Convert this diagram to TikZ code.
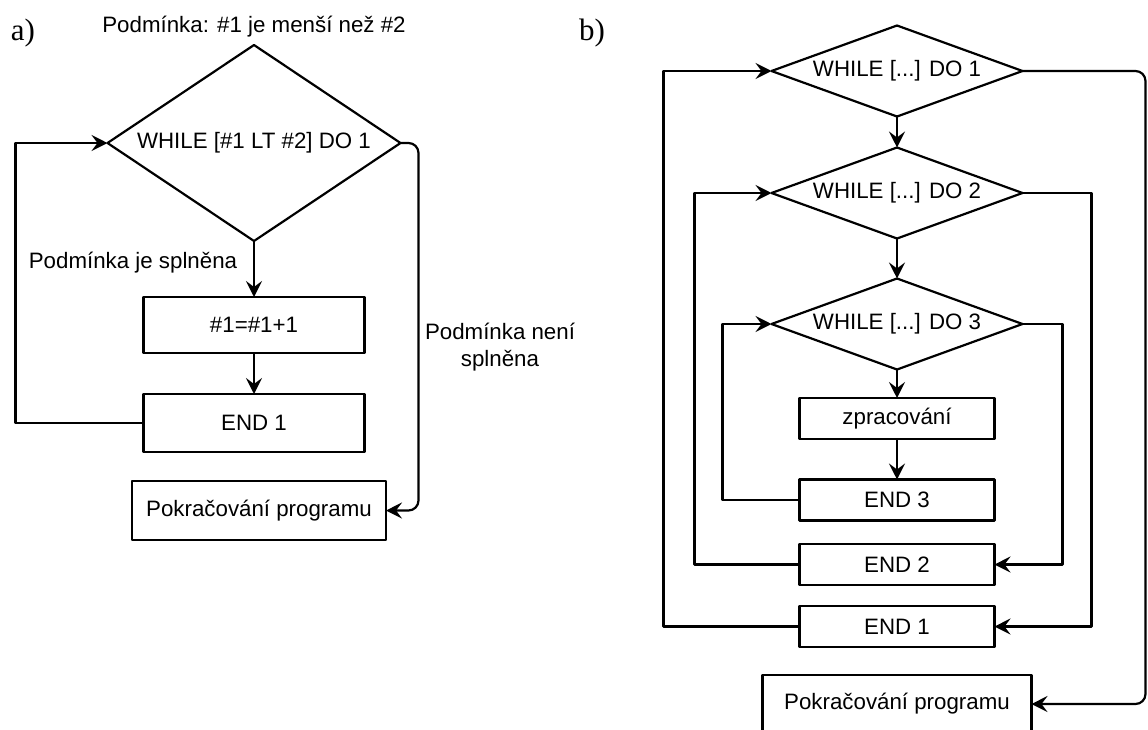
\documentclass[tikz,border=0pt]{standalone}
\usepackage{fontspec}
\setmainfont{Liberation Sans}
\newfontfamily\serif{Liberation Serif}
\usetikzlibrary{shapes.geometric,arrows.meta}
\tikzset{
 cond/.style={diamond, draw, line width=2.2pt, inner sep=0pt, outer sep=0pt},
 blok/.style={rectangle, draw, line width=2.2pt, inner sep=0pt, outer sep=0pt},
 spoj/.style={->, line width=2.2pt}
}
\begin{document}
\begin{tikzpicture}[x=1pt, y=-1pt, >={Stealth[length=16pt,width=16pt,inset=6pt]}, font=\fontsize{22.3}{27}\selectfont, line join=round]
 \def\xa{254} \def\xb{897} % osy obou schemat
 \useasboundingbox (0,0) rectangle (1148,729);
 % a)
 \node (pa) at (23,33) {\serif\fontsize{31}{32}\selectfont a)};
 \node (tit) at (\xa,27) {Podmínka: \#1 je menší než \#2};
 \node[cond, aspect=1.5, minimum width=293, minimum height=196] (wa) at (\xa,143) {WHILE [\#1 LT \#2] DO 1};
 \node[blok, minimum width=221, minimum height=56] (inc) at (\xa,325) {\#1=\#1+1};
 \node[blok, minimum width=221, minimum height=58] (enda) at (\xa,423) {END 1};
 \node[blok, minimum width=254, minimum height=59] (conta) at (259,510.5) {Pokračování programu};
 \node (yes) at (133,263) {Podmínka je splněna};
 \node[align=center] (no) at (500,347) {Podmínka není\\splněna};
 \draw[spoj] (wa.south) -- (inc.north);
 \draw[spoj] (inc) -- (enda);
 \draw[spoj] (enda.west) -- ++(-128,0) |- (wa.west);
 \draw[spoj, rounded corners=10] (wa.east) -- ++(18,0) |- (conta.east);
 % b)
 \node (pb) at (592,33) {\serif\fontsize{31}{32}\selectfont b)};
 \foreach \i/\y in {1/71,2/193,3/324}
  \node[cond, aspect=2.76, minimum width=251, minimum height=91] (w\i) at (\xb,\y) {WHILE [...] DO \i};
 \node[blok, minimum width=195, minimum height=41] (zpr) at (\xb,418.5) {zpracování};
 \foreach \i/\y in {3/500,2/564.5,1/626.5}
  \node[blok, minimum width=195, minimum height=41] (end\i) at (\xb,\y) {END \i};
 \node[blok, minimum width=269, minimum height=58] (contb) at (\xb,704) {Pokračování programu};
 \draw[spoj] (w1.south) -- (w2.north);
 \draw[spoj] (w2.south) -- (w3.north);
 \draw[spoj] (w3.south) -- (zpr.north);
 \draw[spoj] (zpr) -- (end3);
 \foreach \i/\d in {3/77,2/105,1/136}
  \draw[spoj] (end\i.west) -- ++(-\d,0) |- (w\i.west);
 \draw[spoj] (w3.east) -- ++(40,0) |- (end2.east);
 \draw[spoj] (w2.east) -- ++(69,0) |- (end1.east);
 \draw[spoj, rounded corners=10] (w1.east) -- ++(123,0) |- (contb.east);
\end{tikzpicture}
\end{document}
